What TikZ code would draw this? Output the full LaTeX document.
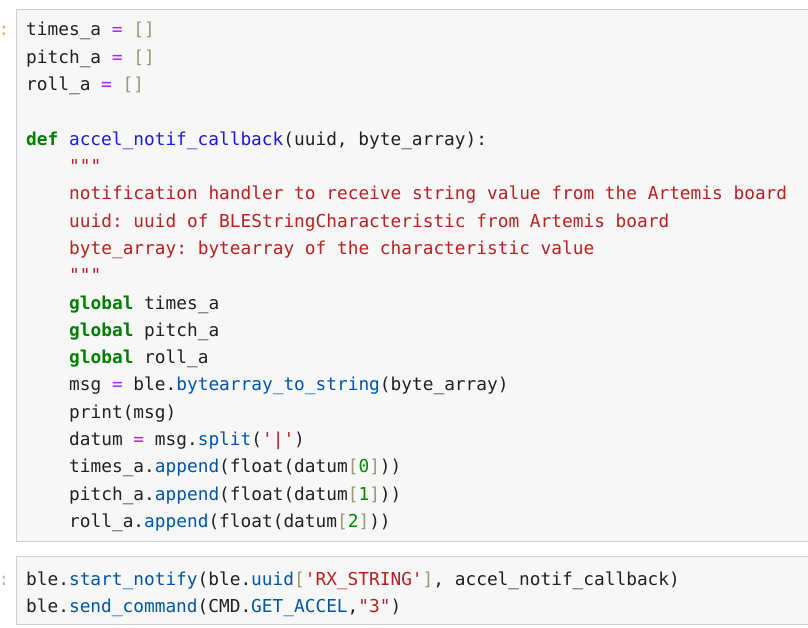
\documentclass[tikz,border=0pt]{standalone}
\usepackage{fontspec}
\setmonofont{DejaVu Sans Mono}
\definecolor{cellbg}{HTML}{F7F7F7}
\definecolor{cellborder}{HTML}{CFCFCF}
\definecolor{codeblack}{HTML}{212121}
\definecolor{kwgreen}{HTML}{008000}
\definecolor{defblue}{HTML}{1A1AE0}
\definecolor{propblue}{HTML}{0055AA}
\definecolor{strred}{HTML}{BA2121}
\definecolor{oppurple}{HTML}{AA22FF}
\definecolor{brkgray}{HTML}{999977}
\definecolor{numgreen}{HTML}{008800}
\definecolor{promptorange}{HTML}{E8A866}
\definecolor{promptgray}{HTML}{B8B8B8}
\newcommand{\cKw}[1]{\textcolor{kwgreen}{\textbf{#1}}}
\newcommand{\cDef}[1]{\textcolor{defblue}{#1}}
\newcommand{\cProp}[1]{\textcolor{propblue}{#1}}
\newcommand{\cStr}[1]{\textcolor{strred}{#1}}
\newcommand{\cOp}[1]{\textcolor{oppurple}{#1}}
\newcommand{\cBrk}[1]{\textcolor{brkgray}{#1}}
\newcommand{\cNum}[1]{\textcolor{numgreen}{#1}}
\begin{document}
\begin{tikzpicture}[
                        x=1pt, y=-1pt,
                        cell/.style={draw=cellborder, fill=cellbg, line width=1pt},
                        codeline/.style={anchor=base west, inner sep=0pt, text=codeblack,
                          font=\ttfamily\fontsize{17.8}{27.3}\selectfont},
                        prompt/.style={anchor=base, inner sep=0pt,
                          font=\ttfamily\fontsize{17.8}{27.3}\selectfont}
                    ]
                    \useasboundingbox (0,0) rectangle (808,628);
                    % Cells
                    \draw [cell] (16,9.5) rectangle (830,541);
                    \draw [cell] (16,556.5) rectangle (830,624.5);

                    % Prompts
                    \node [prompt, text=promptorange] (prompta) at (4,36) {:};
                    \node [prompt, text=promptgray] (promptb) at (4,585) {:};

                    % First cell
                    \node [codeline] (times) at (26,36) {times\_a \cOp{=} \cBrk{[]}};
                    \node [codeline] (pitch) at (26,63.3) {pitch\_a \cOp{=} \cBrk{[]}};
                    \node [codeline] (roll) at (26,90.6) {roll\_a \cOp{=} \cBrk{[]}};
                    \node [codeline] (def) at (26,145.2) {\cKw{def} \cDef{accel\_notif\_callback}(uuid, byte\_array):};
                    \node [codeline] (docopen) at (69,172.5) {\cStr{"""}};
                    \node [codeline] (docone) at (69,199.8) {\cStr{notification handler to receive string value from the Artemis board}};
                    \node [codeline] (doctwo) at (69,227.1) {\cStr{uuid: uuid of BLEStringCharacteristic from Artemis board}};
                    \node [codeline] (docthree) at (69,254.4) {\cStr{byte\_array: bytearray of the characteristic value}};
                    \node [codeline] (docclose) at (69,281.7) {\cStr{"""}};
                    \node [codeline] (globtimes) at (69,309) {\cKw{global} times\_a};
                    \node [codeline] (globpitch) at (69,336.3) {\cKw{global} pitch\_a};
                    \node [codeline] (globroll) at (69,363.6) {\cKw{global} roll\_a};
                    \node [codeline] (msg) at (69,390.9) {msg \cOp{=} ble.\cProp{bytearray\_to\_string}(byte\_array)};
                    \node [codeline] (print) at (69,418.2) {print(msg)};
                    \node [codeline] (datum) at (69,445.5) {datum \cOp{=} msg.\cProp{split}(\cStr{'|'})};
                    \node [codeline] (apptimes) at (69,472.8) {times\_a.\cProp{append}(float(datum\cBrk{[}\cNum{0}\cBrk{]}))};
                    \node [codeline] (apppitch) at (69,500.1) {pitch\_a.\cProp{append}(float(datum\cBrk{[}\cNum{1}\cBrk{]}))};
                    \node [codeline] (approll) at (69,527.4) {roll\_a.\cProp{append}(float(datum\cBrk{[}\cNum{2}\cBrk{]}))};

                    % Second cell
                    \node [codeline] (notify) at (26,585) {ble.\cProp{start\_notify}(ble.\cProp{uuid}\cBrk{[}\cStr{'RX\_STRING'}\cBrk{]}, accel\_notif\_callback)};
                    \node [codeline] (send) at (26,612.3) {ble.\cProp{send\_command}(CMD.\cProp{GET\_ACCEL},\cStr{"3"})};
                \end{tikzpicture}
\end{document}
